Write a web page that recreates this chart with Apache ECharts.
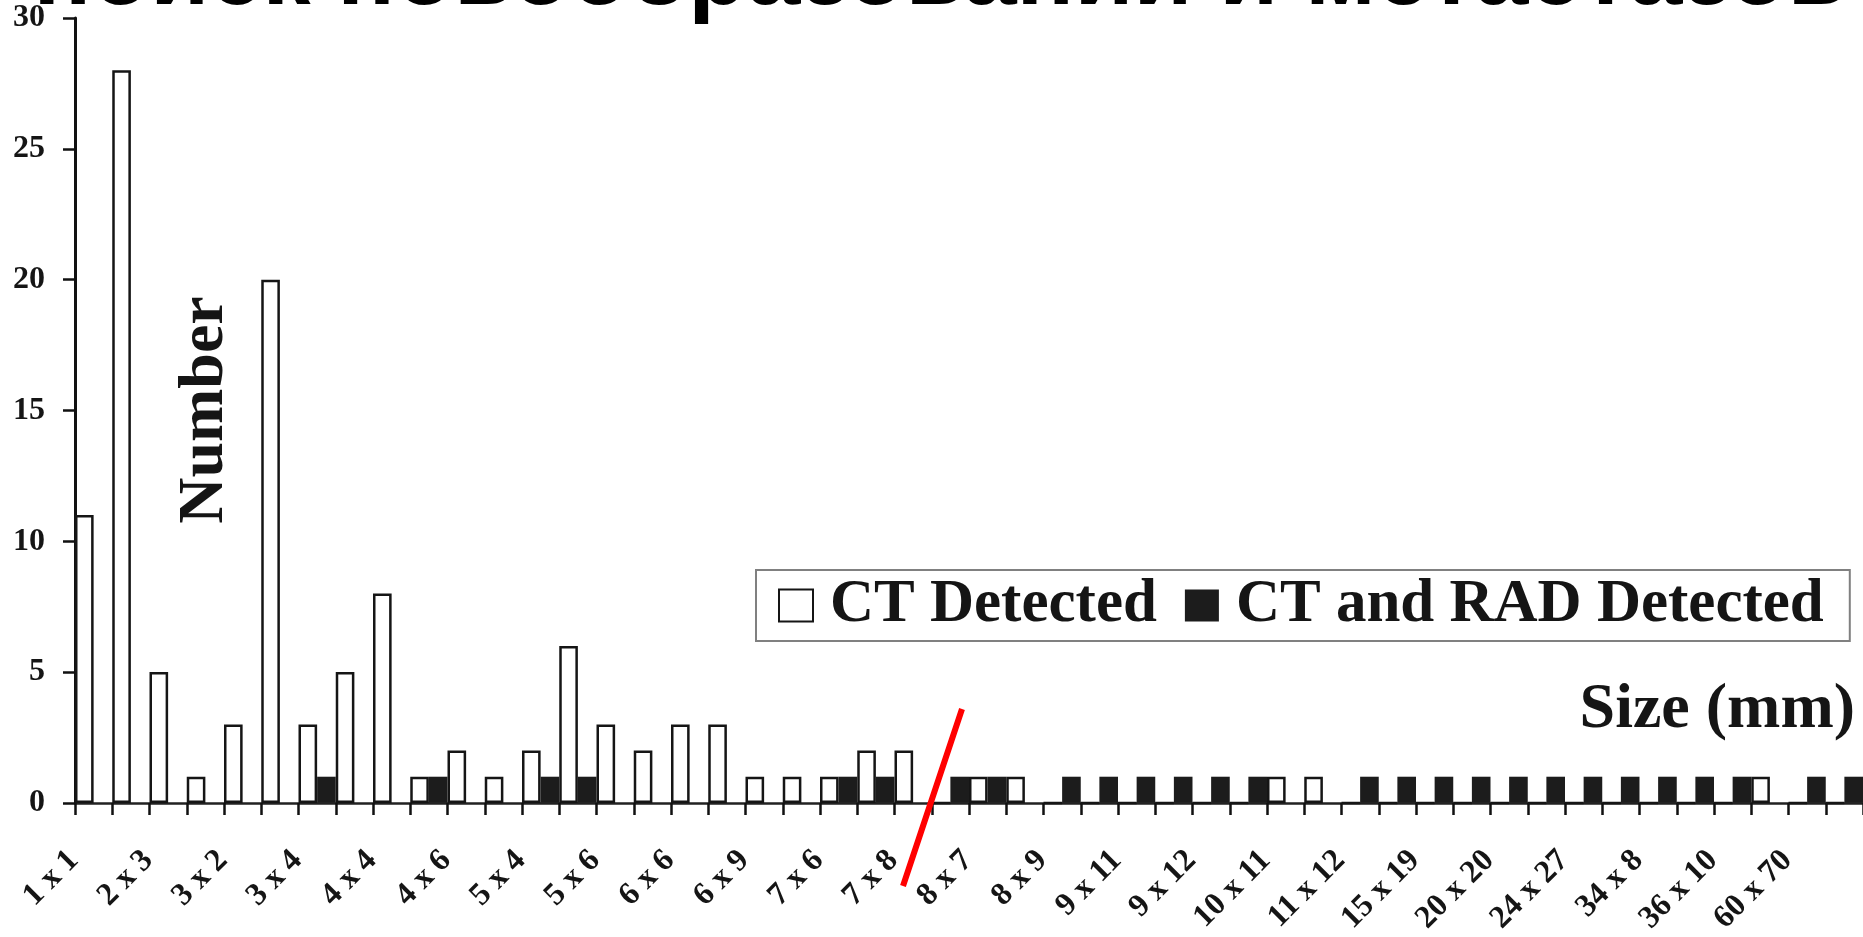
<!DOCTYPE html>
<html>
<head>
<meta charset="utf-8">
<script src="https://cdn.jsdelivr.net/npm/echarts@6/dist/echarts.min.js"></script>
<style>
html,body{margin:0;padding:0;background:#fff;}
#chart{width:1863px;height:937px;}
</style>
</head>
<body>
<div id="chart"></div>
<script>
// Category labels (every other category is labelled in the original)
const categories = [
  "1 x 1", "", "2 x 3", "", "3 x 2", "", "3 x 4", "", "4 x 4", "", "4 x 6", "",
  "5 x 4", "", "5 x 6", "", "6 x 6", "", "6 x 9", "", "7 x 6", "", "7 x 8", "",
  "8 x 7", "", "8 x 9", "", "9 x 11", "", "9 x 12", "", "10 x 11", "", "11 x 12", "",
  "15 x 19", "", "20 x 20", "", "24 x 27", "", "34 x 8", "", "36 x 10", "", "60 x 70", ""
];
const ctDetected = [
  11, 28, 5, 1, 3, 20, 3, 5, 8, 1, 2, 1,
  2, 6, 3, 2, 3, 3, 1, 1, 1, 2, 2, 0,
  1, 1, 0, 0, 0, 0, 0, 0, 1, 1, 0, 0,
  0, 0, 0, 0, 0, 0, 0, 0, 0, 1, 0, 0
];
const ctRadDetected = [
  0, 0, 0, 0, 0, 0, 1, 0, 0, 1, 0, 0,
  1, 1, 0, 0, 0, 0, 0, 0, 1, 1, 0, 1,
  1, 0, 1, 1, 1, 1, 1, 1, 0, 0, 1, 1,
  1, 1, 1, 1, 1, 1, 1, 1, 1, 0, 1, 1
];
const yTicks = { min: 0, max: 30, interval: 5 };
const titleText = "поиск новообразований и метастазов";
const seriesNames = ["CT Detected", "CT and RAD Detected"];

const chart = echarts.init(document.getElementById('chart'), null, { renderer: 'canvas' });
const serif = "'Liberation Serif', 'Times New Roman', serif";

chart.setOption({
  animation: false,
  backgroundColor: '#ffffff',
  grid: { left: 75, right: 0, top: 18, bottom: 133, containLabel: false },
  legend: {
    data: seriesNames,
    left: 756, top: 570,
    width: 1100,
    orient: 'horizontal',
    icon: 'rect',
    itemWidth: 34, itemHeight: 32,
    itemGap: 28,
    borderColor: '#808080', borderWidth: 2,
    padding: [5, 26, 5, 22],
    selectedMode: false,
    textStyle: { fontFamily: serif, fontWeight: 'bold', fontSize: 61, color: '#151515', padding: [0, 0, 0, 12] }
  },
  xAxis: {
    type: 'category',
    data: categories,
    boundaryGap: true,
    axisLine: { show: true, lineStyle: { color: '#222', width: 2.5 } },
    axisTick: { show: true, interval: 0, length: 12, lineStyle: { color: '#111', width: 2.5 } },
    axisLabel: {
      interval: 0, rotate: 45, margin: 33, padding: [0, 28, 0, 0],
      fontFamily: serif, fontWeight: 'bold', fontSize: 32, color: '#151515'
    },
    splitLine: { show: false }
  },
  yAxis: {
    type: 'value',
    min: yTicks.min, max: yTicks.max, interval: yTicks.interval,
    axisLine: { show: true, lineStyle: { color: '#111', width: 3 } },
    axisTick: { show: true, length: 12, lineStyle: { color: '#111', width: 2.5 } },
    axisLabel: { margin: 30, padding: [14, 0, 0, 0], fontFamily: serif, fontWeight: 'bold', fontSize: 32, color: '#151515' },
    splitLine: { show: false }
  },
  series: [
    {
      name: seriesNames[0], type: 'bar', data: ctDetected,
      barGap: '0%', barCategoryGap: '0%',
      itemStyle: { color: '#ffffff', borderColor: '#151515', borderWidth: 2.5 }
    },
    {
      name: seriesNames[1], type: 'bar', data: ctRadDetected,
      barGap: '0%', barCategoryGap: '0%',
      itemStyle: { color: '#1c1c1c', borderColor: '#1c1c1c', borderWidth: 0 }
    }
  ],
  graphic: [
    {
      type: 'text', x: 940, y: 26, z: 100,
      style: { text: titleText, font: "bold 96px 'Liberation Sans', Arial, sans-serif", fill: '#000', textAlign: 'center', textVerticalAlign: 'bottom' }
    },
    {
      type: 'text', x: 205, y: 410, rotation: Math.PI / 2, z: 100,
      style: { text: 'Number', font: "bold 64px 'Liberation Serif', serif", fill: '#151515', textAlign: 'center', textVerticalAlign: 'middle' }
    },
    {
      type: 'text', x: 1855, y: 710, z: 100,
      style: { text: 'Size (mm)', font: "bold 64px 'Liberation Serif', serif", fill: '#151515', textAlign: 'right', textVerticalAlign: 'middle' }
    },
    {
      type: 'line', z: 100,
      shape: { x1: 903, y1: 886, x2: 962, y2: 709 },
      style: { stroke: '#ff0000', lineWidth: 6 }
    }
  ]
});
</script>
</body>
</html>
